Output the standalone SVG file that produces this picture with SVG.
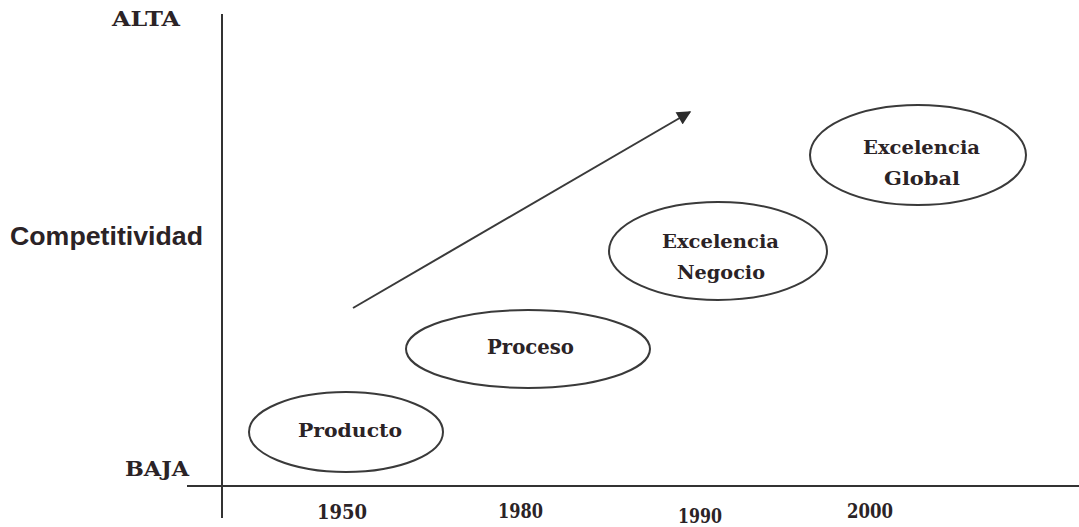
<svg xmlns="http://www.w3.org/2000/svg" width="1079" height="527" viewBox="0 0 1079 527">
  <style>
    .lbl { font-family: "DejaVu Serif", "Liberation Serif", serif; font-weight: bold; fill: #2b2326; }
    .axis-title { font-family: "Liberation Sans", Arial, sans-serif; font-weight: bold; fill: #2b2326; }
    .node { fill: none; stroke: #3a3a3a; stroke-width: 2; }
    .axis { stroke: #333; stroke-width: 2; fill: none; }
    .trend { stroke: #3a3a3a; stroke-width: 2; fill: none; }
  </style>
  <defs>
    <marker id="head" viewBox="0 0 10 10" refX="9" refY="5" markerWidth="8" markerHeight="7" markerUnits="strokeWidth" orient="auto">
      <path d="M0,0 L10,5 L0,10 Z" fill="#2b2b2b"/>
    </marker>
  </defs>
  <rect width="1079" height="527" fill="#ffffff"/>

  <!-- axes -->
  <g id="axes">
    <line class="axis" x1="222" y1="14" x2="222" y2="518"/>
    <line class="axis" x1="187" y1="486" x2="1079" y2="486"/>
  </g>

  <!-- axis labels -->
  <g id="labels">
    <text class="lbl" x="112" y="26" font-size="21" textLength="68" lengthAdjust="spacingAndGlyphs">ALTA</text>
    <text class="lbl" x="125" y="476" font-size="21" textLength="64" lengthAdjust="spacingAndGlyphs">BAJA</text>
    <text class="axis-title" x="10" y="245" font-size="26" textLength="193" lengthAdjust="spacingAndGlyphs">Competitividad</text>
    <text class="lbl" x="317" y="519" font-size="20" textLength="50" lengthAdjust="spacingAndGlyphs">1950</text>
    <text class="lbl" x="498" y="518" font-size="20" textLength="45" lengthAdjust="spacingAndGlyphs">1980</text>
    <text class="lbl" x="678" y="523" font-size="20" textLength="44" lengthAdjust="spacingAndGlyphs">1990</text>
    <text class="lbl" x="847" y="518" font-size="20" textLength="46" lengthAdjust="spacingAndGlyphs">2000</text>
  </g>

  <!-- trend arrow -->
  <g id="connectors">
    <line class="trend" x1="353" y1="308" x2="690" y2="112" marker-end="url(#head)"/>
  </g>

  <!-- stages -->
  <g id="producto">
    <ellipse class="node" cx="346" cy="432" rx="97" ry="40"/>
    <text class="lbl" x="298" y="437" font-size="19" textLength="104" lengthAdjust="spacingAndGlyphs">Producto</text>
  </g>
  <g id="proceso">
    <ellipse class="node" cx="528" cy="349" rx="122" ry="39"/>
    <text class="lbl" x="487" y="354" font-size="20" textLength="87" lengthAdjust="spacingAndGlyphs">Proceso</text>
  </g>
  <g id="excelencia-negocio">
    <ellipse class="node" cx="718" cy="251" rx="109" ry="49"/>
    <text class="lbl" x="662" y="248" font-size="19" textLength="117" lengthAdjust="spacingAndGlyphs">Excelencia</text>
    <text class="lbl" x="677" y="279" font-size="19" textLength="88" lengthAdjust="spacingAndGlyphs">Negocio</text>
  </g>
  <g id="excelencia-global">
    <ellipse class="node" cx="918" cy="155" rx="108" ry="50"/>
    <text class="lbl" x="863" y="154" font-size="19" textLength="117" lengthAdjust="spacingAndGlyphs">Excelencia</text>
    <text class="lbl" x="884" y="185" font-size="19" textLength="76" lengthAdjust="spacingAndGlyphs">Global</text>
  </g>
</svg>
